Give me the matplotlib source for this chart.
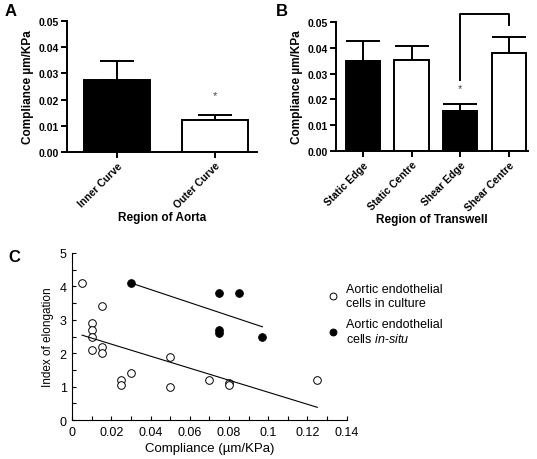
import numpy as np
import matplotlib
matplotlib.use("Agg")
import matplotlib.pyplot as plt
from matplotlib.ticker import FormatStrFormatter, MultipleLocator, FixedLocator

plt.rcParams['font.family'] = ['Liberation Sans', 'DejaVu Sans']
plt.rcParams['mathtext.fontset'] = 'custom'
plt.rcParams['mathtext.rm'] = 'Liberation Sans'
plt.rcParams['mathtext.it'] = 'Liberation Sans:italic'

# Panel A: aorta regions
aorta_regions = ['Inner Curve', 'Outer Curve']
aorta_mean = [0.0275, 0.0123]
aorta_sem = [0.0074, 0.0018]
aorta_fill = ['black', 'white']
aorta_star = [None, 0.0219]

# Panel B: transwell regions
tw_regions = ['Static Edge', 'Static Centre', 'Shear Edge', 'Shear Centre']
tw_mean = [0.0348, 0.0351, 0.0155, 0.0380]
tw_sem = [0.0077, 0.0057, 0.0027, 0.0061]
tw_fill = ['black', 'white', 'black', 'white']
tw_star = [None, None, 0.0245, None]
# bracket between Shear Edge and Shear Centre (bottom-left, top, bottom-right)
bracket_y = [0.0275, 0.0531, 0.0488]

# Panel C: index of elongation vs compliance
culture_x = [0.005, 0.01, 0.01, 0.01, 0.01, 0.015, 0.015, 0.015, 0.025, 0.025,
             0.03, 0.05, 0.05, 0.07, 0.08, 0.08, 0.125]
culture_y = [4.1, 2.9, 2.7, 2.5, 2.1, 3.4, 2.2, 2.0, 1.2, 1.05,
             1.4, 1.9, 1.0, 1.2, 1.1, 1.05, 1.2]
insitu_x = [0.03, 0.075, 0.085, 0.075, 0.075, 0.097]
insitu_y = [4.1, 3.8, 3.8, 2.7, 2.6, 2.5]
culture_fit_x = [0.005, 0.125]
culture_fit_y = [2.54, 0.38]
insitu_fit_x = [0.03, 0.097]
insitu_fit_y = [4.1, 2.79]

W, H = 537, 460
fig = plt.figure(figsize=(W / 100, H / 100), dpi=100)


def px_axes(left, top, right, bottom):
    return fig.add_axes([left / W, 1 - bottom / H, (right - left) / W, (bottom - top) / H])


def bar_panel(ax, labels, means, sems, fills, stars, xlabel, width):
    pos = np.arange(len(labels))
    ax.bar(pos, means, width=width, color=fills, edgecolor='black', linewidth=1.4, zorder=2)
    for p, m, s in zip(pos, means, sems):
        ax.errorbar(p, m, yerr=[[0], [s]], color='black', elinewidth=1.4,
                    capsize=12, capthick=1.4, zorder=1)
    for p, st in zip(pos, stars):
        if st is not None:
            ax.text(p, st, '*', ha='center', va='center', fontsize=8, color='#444444')
    ax.set_ylim(0, 0.05)
    ax.yaxis.set_major_locator(MultipleLocator(0.01))
    ax.yaxis.set_major_formatter(FormatStrFormatter('%.2f'))
    ax.set_xticks(pos)
    ax.set_xticklabels(labels, rotation=45, ha='right', rotation_mode='anchor',
                       fontsize=7.5, fontweight='bold')
    for t in ax.get_yticklabels():
        t.set_fontsize(7.5)
        t.set_fontweight('bold')
    ax.tick_params(axis='both', direction='out', length=4, width=1.4, pad=2)
    for side in ['top', 'right']:
        ax.spines[side].set_visible(False)
    for side in ['left', 'bottom']:
        ax.spines[side].set_linewidth(1.4)
    ax.set_ylabel('Compliance µm/KPa', fontsize=8.5, fontweight='bold', labelpad=3)
    ax.set_xlabel(xlabel, fontsize=8.5, fontweight='bold', labelpad=1)


# Panel A
axA = px_axes(67, 22, 257, 153)
bar_panel(axA, aorta_regions, aorta_mean, aorta_sem, aorta_fill, aorta_star,
          'Region of Aorta', 0.67)
axA.set_xlim(-0.51, 1.43)
fig.text(5 / W, 1 - 12 / H, 'A', fontsize=12, fontweight='bold', va='center')

# Panel B
axB = px_axes(336, 23, 528, 152)
bar_panel(axB, tw_regions, tw_mean, tw_sem, tw_fill, tw_star,
          'Region of Transwell', 0.7)
axB.set_xlim(-0.55, 3.39)
axB.plot([2, 2, 3, 3], [bracket_y[0], bracket_y[1], bracket_y[1], bracket_y[2]],
         color='black', linewidth=1.4, clip_on=False)
fig.text(276 / W, 1 - 12 / H, 'B', fontsize=12, fontweight='bold', va='center')

# Panel C
axC = px_axes(72.3, 254, 346.7, 421)
axC.plot(culture_x, culture_y, 'o', markersize=5.5, markerfacecolor='white',
         markeredgecolor='black', markeredgewidth=0.7, linestyle='none',
         label='Aortic endothelial\ncells in culture', clip_on=False)
axC.plot(insitu_x, insitu_y, 'o', markersize=5.5, markerfacecolor='black',
         markeredgecolor='black', markeredgewidth=0.7, linestyle='none',
         label='Aortic endothelial\ncells $\\it{in}$-$\\it{situ}$', clip_on=False)
axC.plot(culture_fit_x, culture_fit_y, color='black', linewidth=0.8)
axC.plot(insitu_fit_x, insitu_fit_y, color='black', linewidth=0.8)
axC.set_xlim(0, 0.14)
axC.set_ylim(0, 5)
xt = [0, 0.02, 0.04, 0.06, 0.08, 0.1, 0.12, 0.14]
axC.xaxis.set_major_locator(FixedLocator(xt))
axC.set_xticklabels(['0', '0.02', '0.04', '0.06', '0.08', '0.1', '0.12', '0.14'])
axC.xaxis.set_minor_locator(MultipleLocator(0.01))
axC.yaxis.set_major_locator(MultipleLocator(1))
axC.yaxis.set_minor_locator(MultipleLocator(0.5))
axC.tick_params(axis='both', which='both', direction='in', width=0.8, labelsize=9, pad=4)
axC.tick_params(axis='both', which='major', length=3)
axC.tick_params(axis='both', which='minor', length=3)
for side in ['top', 'right']:
    axC.spines[side].set_visible(False)
for side in ['left', 'bottom']:
    axC.spines[side].set_linewidth(0.8)
axC.set_xlabel('Compliance (µm/KPa)', fontsize=9.5, labelpad=3)
axC.set_ylabel('Index of elongation', fontsize=8.5, labelpad=4)
axC.legend(loc='upper left', bbox_to_anchor=(314 / W, 1 - 273 / H),
           bbox_transform=fig.transFigure, frameon=False, fontsize=9,
           handletextpad=0.5, handlelength=1.2, labelspacing=0.75, markerscale=0.9)
fig.text(8 / W, 1 - 257 / H, 'C', fontsize=12, fontweight='bold', va='center')

fig.savefig('out.png', dpi=100)
